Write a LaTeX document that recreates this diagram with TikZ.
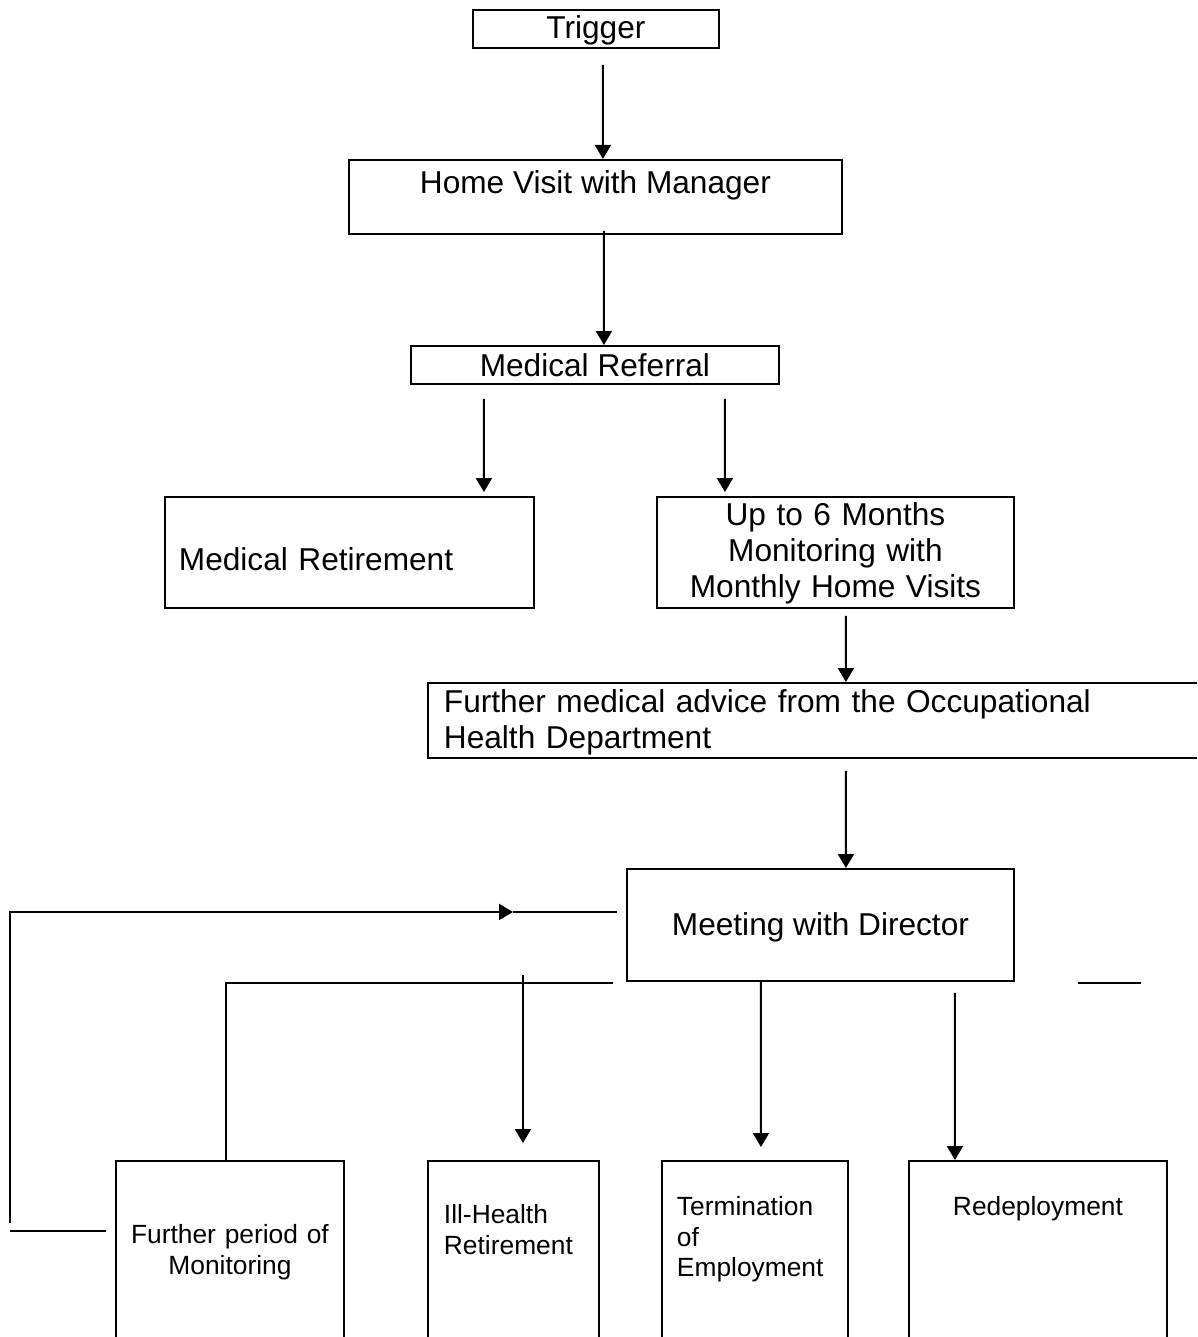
\documentclass[tikz,border=0pt]{standalone}
\usepackage{fontspec}
\setmainfont{Liberation Sans}
\usepackage{tikz}
\usetikzlibrary{arrows.meta,positioning,calc}

\newcommand{\flowbig}{\fontsize{18}{20.5}\selectfont}
\newcommand{\flowsmall}{\fontsize{15}{17.3}\selectfont}

\begin{document}
\begin{tikzpicture}[
    x=0.02cm, y=-0.02cm,
    box/.style={rectangle, draw, line width=1.1pt, anchor=north west, inner xsep=0pt, inner ysep=0pt, font=\flowbig},
    smallbox/.style={box, font=\flowsmall},
    arrow/.style={-{Triangle[length=0.28cm,width=0.32cm]}, line width=1.1pt},
    link/.style={line width=1.1pt}
]
    \useasboundingbox (0,0) rectangle (1197,1337);
    \clip (0,0) rectangle (1197,1337);

    % --- Top: trigger and referral ---
    \node[box, minimum width=4.92cm, text height=0.58cm, text depth=0.18cm] (trigger) at (472,9) {Trigger};
    \node[box, minimum width=9.86cm, text height=0.68cm, text depth=0.8cm] (home) at (348,159) {Home Visit with Manager};
    \node[box, minimum width=7.36cm, text height=0.62cm, text depth=0.14cm] (referral) at (410,345) {Medical Referral};

    \draw[arrow] ($(trigger.south)+(7,16)$) -- ($(home.north)+(7.5,0)$);
    \draw[arrow] ($(home.south)+(8.5,-4)$) -- ($(referral.north)+(9,0)$);

    % --- Middle: two outcomes of the referral ---
    \node[box, inner xsep=0.28cm, text width=6.82cm, align=left, text height=1.48cm, text depth=0.74cm] (medret) at (164,496) {Medical Retirement};
    \node[box, text width=7.14cm, align=center, text height=0.58cm, text depth=1.64cm] (monitor) at (656,496) {Up to 6 Months\\ Monitoring with\\ Monthly Home Visits};

    \draw[arrow] ($(referral.south)+(-111,14)$) -- ($(medret.north)+(134.5,-4)$);
    \draw[arrow] ($(referral.south)+(130,14)$) -- ($(monitor.north)+(-110.5,-4)$);

    \node[box, inner xsep=0.32cm, text width=15.02cm, align=left, text height=0.6cm, text depth=0.9cm] (ohd) at (427,682) {Further medical advice from the Occupational\\ Health Department};
    \node[box, minimum width=7.74cm, text height=1.34cm, text depth=0.9cm] (meet) at (626,868) {Meeting with Director};

    \draw[arrow] ($(monitor.south)+(10.5,7)$) -- ($(ohd.north)+(26.5,0)$);
    \draw[arrow] ($(ohd.south)+(26.5,12)$) -- ($(meet.north)+(25.5,0)$);

    % --- Bottom: decisions of the meeting ---
    \node[smallbox, text width=4.56cm, align=center, text height=1.66cm, text depth=2.14cm] (further) at (115,1160) {Further period of\\ Monitoring};
    \node[smallbox, inner xsep=0.32cm, text width=2.78cm, align=left, text height=1.26cm, text depth=2.56cm] (ill) at (427,1160) {Ill-Health\\ Retirement};
    \node[smallbox, inner xsep=0.3cm, text width=3.12cm, align=left, text height=1.1cm, text depth=2.7cm] (term) at (661,1160) {Termination\\ of\\ Employment};
    \node[smallbox, minimum width=5.16cm, text height=1.1cm, text depth=2.7cm] (redeploy) at (908,1160) {Redeployment};

    \draw[arrow] ($(ill.north)+(9.5,-185)$) -- ($(ill.north)+(9.5,-17)$);
    \draw[arrow] ($(meet.south)+(-59.5,0)$) -- ($(term.north)+(6,-13)$);
    \draw[arrow] ($(meet.south)+(134.5,11)$) -- ($(redeploy.north)+(-83,0)$);

    % branch lines under the meeting box
    \draw[link] ($(further.north)+(-4,0)$) |- ($(meet.south west)+(-13,1)$);
    \draw[link] ($(meet.south east)+(63,1)$) -- ($(meet.south east)+(126,1)$);

    % loop back from further monitoring
    \coordinate (back) at ($(further.north west)+(-9,71)$);
    \draw[link] (back) -- ++(-96,0);
    \draw[arrow] ($(back)+(-96,-8)$) |- ($(meet.west)+(-113,-13)$);
    \draw[link, line width=0.8pt] ($(meet.west)+(-113,-13)$) -- ($(meet.west)+(-9,-13)$);

\end{tikzpicture}
\end{document}
